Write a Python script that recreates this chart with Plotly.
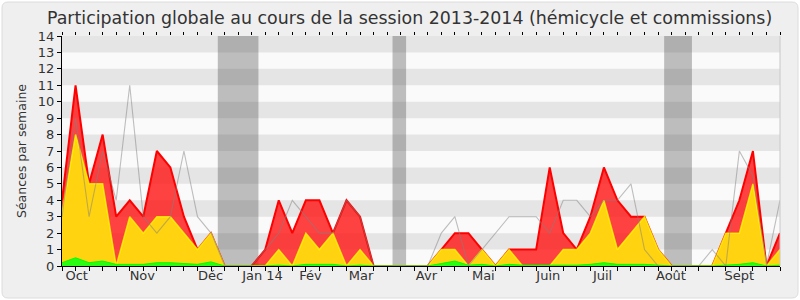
import plotly.graph_objects as go

weeks = list(range(54))
presence_total = [4, 11, 5, 8, 3, 4, 3, 7, 6, 3, 1, 2, 0, 0, 0, 1, 4, 2, 4, 4, 2, 4, 3, 0, 0, 0, 0, 0,
                  1, 2, 2, 1, 0, 1, 1, 1, 6, 2, 1, 3, 6, 4, 3, 3, 1, 0, 0, 0, 0, 2, 4, 7, 0, 2]
presence_commission = [3.2, 8, 5, 5, 0, 3, 2, 3, 3, 2, 1, 2, 0, 0, 0, 0, 1, 0, 2, 1, 2, 0, 1, 0, 0, 0, 0, 0,
                       1, 1, 0, 1, 0, 1, 0, 0, 0, 1, 1, 2, 4, 1, 2, 3, 1, 0, 0, 0, 0, 2, 2, 5, 0, 1]
interventions = [0.2, 0.5, 0.2, 0.3, 0.1, 0.1, 0.1, 0.2, 0.2, 0.15, 0.1, 0.25, 0, 0, 0, 0, 0.05, 0, 0.1, 0.1,
                 0.1, 0, 0.05, 0, 0, 0, 0, 0, 0.15, 0.3, 0.05, 0.1, 0, 0.1, 0.05, 0.05, 0.05, 0.05, 0.05, 0.1,
                 0.2, 0.1, 0.1, 0.1, 0.05, 0, 0, 0, 0, 0.05, 0.1, 0.2, 0, 0.05]
mediane = [3, 9, 3, 7, 4, 11, 3, 2, 3, 7, 3, 2, 0, 0, 0, 1, 2, 4, 3, 2, 2, 4, 3, 0, 0, 0, 0, 0,
           2, 3, 0, 1, 2, 3, 3, 3, 2, 4, 4, 3, 4, 4, 5, 1, 0, 0, 0, 0, 1, 0, 7, 5.5, 0, 4]
questions_x = [2]
questions_y = [0.85]
vacances = [(11.5, 14.5), (24.4, 25.4), (44.45, 46.5)]
month_pos = [1.08, 5.93, 10.97, 14.8, 18.35, 22.07, 26.9, 31.1, 35.9, 39.9, 44.95, 50.0]
month_labels = ["Oct", "Nov", "Déc", "Jan 14", "Fév", "Mar", "Avr", "Mai", "Juin", "Juil", "Août", "Sept"]
y_max = 14

W, H = 800, 300
L, R, T, B = 62, 20, 36, 34
pw, ph = W - L - R, H - T - B

def px2paper(px, py):
    return (px - L) / pw, (H - B - py) / ph

fig = go.Figure()

fig.add_trace(go.Scatter(x=weeks, y=presence_total, mode="lines", fill="tozeroy",
                         line=dict(color="rgb(255,0,0)", width=2),
                         fillcolor="rgba(255,20,20,0.8)", hoverinfo="skip", showlegend=False))
fig.add_trace(go.Scatter(x=weeks, y=presence_commission, mode="lines", fill="tozeroy",
                         line=dict(color="rgba(255,255,0,0.75)", width=1.5),
                         fillcolor="rgb(255,211,15)", hoverinfo="skip", showlegend=False))
fig.add_trace(go.Scatter(x=weeks, y=interventions, mode="lines", fill="tozeroy",
                         line=dict(color="rgb(0,255,0)", width=1),
                         fillcolor="rgba(20,255,20,0.9)", hoverinfo="skip", showlegend=False))
fig.add_trace(go.Scatter(x=weeks, y=mediane, mode="lines",
                         line=dict(color="rgba(130,130,130,0.5)", width=1.1),
                         hoverinfo="skip", showlegend=False))
fig.add_trace(go.Bar(x=questions_x, y=questions_y, width=0.28, marker=dict(color="rgb(20,20,240)", line=dict(width=0)),
                     hoverinfo="skip", showlegend=False))
fig.add_trace(go.Scatter(x=[], y=[], xaxis="x2", showlegend=False))
fig.add_trace(go.Scatter(x=[], y=[], xaxis="x3", showlegend=False))

shapes = []
x0, y0 = px2paper(2, 2)
x1, y1 = px2paper(798, 298)
rx, ry = 6 / pw, 6 / ph
path = (f"M {x0+rx},{y0} L {x1-rx},{y0} Q {x1},{y0} {x1},{y0-ry} L {x1},{y1+ry} Q {x1},{y1} {x1-rx},{y1} "
        f"L {x0+rx},{y1} Q {x0},{y1} {x0},{y1+ry} L {x0},{y0-ry} Q {x0},{y0} {x0+rx},{y0} Z")
shapes.append(dict(type="path", xref="paper", yref="paper", path=path, fillcolor="#efefef",
                   line=dict(color="#dcdcdc", width=1), layer="below"))
shapes.append(dict(type="rect", xref="paper", yref="paper", x0=0, x1=1, y0=0, y1=1,
                   fillcolor="#fafafa", line=dict(width=0), layer="below"))
for k in range(1, y_max, 2):
    shapes.append(dict(type="rect", xref="paper", yref="y", x0=0, x1=1, y0=k, y1=k + 1,
                       fillcolor="#e5e5e5", line=dict(width=0), layer="below"))
for a, b in vacances:
    shapes.append(dict(type="rect", xref="x", yref="paper", x0=a, x1=b, y0=0, y1=1,
                       fillcolor="rgba(50,50,50,0.3)", line=dict(width=0), layer="below"))
shapes.append(dict(type="line", xref="paper", yref="paper", x0=1, x1=1, y0=0, y1=1,
                   line=dict(color="#c8c8c8", width=1), layer="above"))

fig.update_layout(
    width=W, height=H, autosize=False,
    margin=dict(l=L, r=R, t=T, b=B, pad=0),
    paper_bgcolor="white", plot_bgcolor="rgba(0,0,0,0)",
    font=dict(family="DejaVu Sans", size=13, color="#333333"),
    title=dict(text="Participation globale au cours de la session 2013-2014 (hémicycle et commissions)",
               x=0.512, xanchor="center", y=0.94, yanchor="middle",
               font=dict(family="DejaVu Sans", size=17.4, color="#333333")),
    shapes=shapes,
    bargap=0,
    xaxis=dict(range=[0, 53], tickmode="array", tickvals=weeks, ticktext=["" for _ in weeks],
               ticks="outside", ticklen=4, tickcolor="#000", tickwidth=1,
               showline=True, linecolor="#000", linewidth=1, showgrid=False, zeroline=False, fixedrange=True),
    xaxis2=dict(overlaying="x", matches="x", side="bottom", anchor="y", tickmode="array",
                tickvals=month_pos, ticktext=month_labels, ticks="", showline=False, showgrid=False,
                zeroline=False, tickfont=dict(size=13, color="#333333")),
    xaxis3=dict(overlaying="x", matches="x", side="top", anchor="y", tickmode="array",
                tickvals=weeks, showticklabels=False, ticks="outside", ticklen=3, tickcolor="#000",
                showline=False, showgrid=False, zeroline=False),
    yaxis=dict(range=[0, y_max], tickmode="linear", tick0=0, dtick=1, ticks="outside", ticklen=4,
               tickcolor="#000", showline=True, linecolor="#000", linewidth=1, showgrid=False,
               zeroline=False, title=dict(text="Séances par semaine", font=dict(size=12.5, color="#333333"),
                                          standoff=8), fixedrange=True),
)

fig.write_html("out.html")
